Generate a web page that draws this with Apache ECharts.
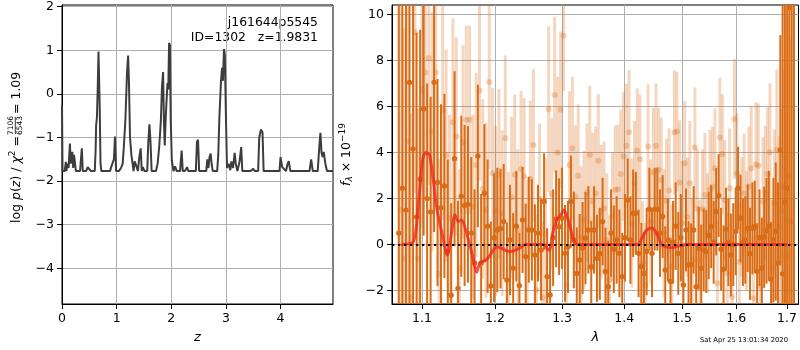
<!DOCTYPE html>
<html>
<head>
<meta charset="utf-8">
<script src="https://cdn.jsdelivr.net/npm/echarts@6.0.0/dist/echarts.min.js"></script>
<style>
  html, body { margin: 0; padding: 0; background: #fff; }
  #chart { width: 800px; height: 350px; }
</style>
</head>
<body>
<div id="chart"></div>
<script>
// ---------- redshift probability curve (left panel) ----------
const PZ_Z = [0, 0.01, 0.05, 0.07, 0.08, 0.1, 0.12, 0.145, 0.16, 0.175, 0.19, 0.205, 0.22, 0.24, 0.255, 0.33, 0.363, 0.38, 0.44, 0.47, 0.5, 0.53, 0.6, 0.615, 0.625, 0.64, 0.655, 0.668, 0.68, 0.69, 0.705, 0.72, 0.88, 0.9, 0.95, 0.97, 0.99, 1.04, 1.08, 1.11, 1.13, 1.16, 1.19, 1.21, 1.225, 1.245, 1.27, 1.29, 1.31, 1.33, 1.36, 1.39, 1.41, 1.44, 1.46, 1.48, 1.51, 1.56, 1.58, 1.6, 1.62, 1.64, 1.72, 1.75, 1.78, 1.81, 1.83, 1.85, 1.865, 1.88, 1.9, 1.93, 1.945, 1.96, 1.975, 1.99, 2.01, 2.04, 2.07, 2.1, 2.16, 2.19, 2.21, 2.25, 2.29, 2.31, 2.34, 2.45, 2.47, 2.49, 2.51, 2.64, 2.66, 2.68, 2.7, 2.72, 2.74, 2.76, 2.84, 2.86, 2.88, 2.91, 2.93, 2.945, 2.965, 2.98, 3.0, 3.02, 3.05, 3.08, 3.1, 3.13, 3.16, 3.18, 3.21, 3.25, 3.28, 3.3, 3.45, 3.5, 3.53, 3.59, 3.61, 3.64, 3.67, 3.69, 3.98, 4.0, 4.03, 4.1, 4.13, 4.15, 4.18, 4.53, 4.56, 4.59, 4.68, 4.71, 4.73, 4.75, 4.77, 4.79, 4.82, 4.85, 4.96];
const PZ_LOGP = [-0.25, -1.77, -1.77, -1.56, -1.77, -1.6, -1.7, -1.14, -1.6, -1.45, -1.33, -1.7, -1.4, -1.37, -1.77, -1.77, -1.25, -1.77, -1.77, -1.68, -1.64, -1.77, -1.77, -1.3, -0.72, -0.52, 0.2, 0.97, 0.95, -0.3, -1.6, -1.77, -1.77, -1.68, -1.5, -0.98, -1.77, -1.77, -1.7, -1.6, -1.25, -0.6, 0.48, 0.88, 0.3, -1.0, -1.4, -1.42, -1.77, -1.55, -1.65, -1.77, -1.5, -1.25, -1.77, -1.68, -1.77, -1.77, -1.1, -0.7, -1.1, -1.77, -1.77, -1.6, -1.2, -0.6, 0.17, 0.5, -0.6, -1.18, -0.5, 0.25, 0.1, 1.17, 1.12, -0.6, -1.52, -1.77, -1.66, -1.77, -1.77, -1.3, -1.77, -1.77, -1.68, -1.77, -1.77, -1.77, -1.1, -1.05, -1.77, -1.77, -1.5, -1.7, -1.45, -1.37, -1.62, -1.77, -1.77, -1.4, -0.56, 0.3, 0.6, 0.3, 1.03, 0.9, -0.5, -1.7, -1.6, -1.75, -1.55, -1.7, -1.35, -1.6, -1.77, -1.55, -1.22, -1.77, -1.77, -1.72, -1.77, -1.77, -1.0, -0.82, -0.88, -1.77, -1.77, -1.45, -1.68, -1.77, -1.6, -1.54, -1.77, -1.77, -1.5, -1.77, -1.77, -1.2, -0.89, -1.35, -1.45, -1.33, -1.6, -1.77, -1.77];
const Z_TICKS = [0, 1, 2, 3, 4];
const LOGP_TICKS = [-4, -3, -2, -1, 0, 1, 2];

// ---------- spectrum (right panel) ----------
// first beam (drawn solid)
const SPEC_A_LAM = [1.0700, 1.0746, 1.0792, 1.0838, 1.0884, 1.0930, 1.0976, 1.1022, 1.1068, 1.1114,
  1.1160, 1.1206, 1.1252, 1.1298, 1.1344, 1.1390, 1.1436, 1.1482, 1.1528, 1.1574,
  1.1620, 1.1666, 1.1712, 1.1758, 1.1804, 1.1850, 1.1896, 1.1942, 1.1988, 1.2034,
  1.2080, 1.2126, 1.2172, 1.2218, 1.2264, 1.2310, 1.2356, 1.2402, 1.2448, 1.2494,
  1.2540, 1.2586, 1.2632, 1.2678, 1.2724, 1.2770, 1.2816, 1.2862, 1.2908, 1.2954,
  1.3000, 1.3046, 1.3092, 1.3138, 1.3184, 1.3230, 1.3276, 1.3322, 1.3368, 1.3414,
  1.3460, 1.3506, 1.3552, 1.3598, 1.3644, 1.3690, 1.3736, 1.3782, 1.3828, 1.3874,
  1.3920, 1.3966, 1.4012, 1.4058, 1.4104, 1.4150, 1.4196, 1.4242, 1.4288, 1.4334,
  1.4380, 1.4426, 1.4472, 1.4518, 1.4564, 1.4610, 1.4656, 1.4702, 1.4748, 1.4794,
  1.4840, 1.4886, 1.4932, 1.4978, 1.5024, 1.5070, 1.5116, 1.5162, 1.5208, 1.5254,
  1.5300, 1.5346, 1.5392, 1.5438, 1.5484, 1.5530, 1.5576, 1.5622, 1.5668, 1.5714,
  1.5760, 1.5806, 1.5852, 1.5898, 1.5944, 1.5990, 1.6036, 1.6082, 1.6128, 1.6174,
  1.6220, 1.6266, 1.6312, 1.6358, 1.6404, 1.6450, 1.6496, 1.6542, 1.6588, 1.6634,
  1.6680, 1.6726, 1.6772, 1.6818, 1.6864, 1.6910, 1.6956, 1.7002, 1.7048, 1.7094, 1.7140];
const SPEC_A_FLUX = [0.5, 2.45, 1.5, 7.04, 4.16, 1.2, 2.84, 5.89, 2.0, 1.42,
  7.05, 2.7, 1.6, 2.55, -0.3, -2.2, 3.73, -1.9, 2.1, 1.7,
  1.75, 0.5, -0.8, 3.85, -0.8, 2.23, 0.8, -1.8, 0.3, 0.64,
  0.7, 1.0, -1.54, 0.2, -1.03, 0.8, -1.78, 1.07, -0.52, 0.64,
  0.64, -0.45, 0.5, -0.23, 1.87, -1.39, -2.19, 0.3, 1.12, 0.78,
  1.14, -0.38, -0.1, 1.87, 0.2, -1.25, -0.67, -0.15, 0.28, 0.64,
  -0.96, 0.64, -0.6, -0.4, 1.0, -1.17, -1.83, 0.5, -0.2, 0.2,
  -0.38, -1.39, 0.3, 1.94, 0.2, 1.36, 1.36, -0.38, -0.96, -1.25,
  -0.3, 1.54, -0.38, 1.54, 1.54, 0.5, 1.22, -1.1, 0.2, -1.6,
  0.1, 0.8, -0.38, 0.3, -1.75, 0.64, -0.88, -0.88, 0.64, -1.83,
  -0.16, -1.03, -0.23, -0.3, 0.4, 0.78, 0.1, 1.43, 2.13, -0.2,
  -1.07, 0.67, 0.1, -0.45, 0.0, 0.57, 2.45, 1.14, 0.1, 0.2,
  0.71, -0.4, 0.71, 0.78, -1.17, 0.3, -1.03, 0.32, 0.6, 0.81,
  -1.5, 0.2, 0.57, -0.8, 4.1, -1.27, 1.84, 2.45, 10.3, 11.0, 12.0];
const SPEC_A_ERR = [15, 14, 13, 12, 10, 8, 6.5, 5.5, 5, 5,
  6.5, 4.5, 4.5, 4, 4, 4, 3.8, 3.8, 3.5, 3.5,
  3.4, 3.3, 3.2, 3.1, 3.0, 3.0, 2.9, 2.8, 2.8, 2.7,
  2.6, 2.5, 2.5, 2.4, 2.4, 2.4, 2.3, 2.3, 2.3, 2.3,
  2.2, 2.2, 2.1, 2.2, 2.1, 2.1, 2.2, 2.1, 2.1, 2.1,
  2.2, 2.1, 2.0, 2.0, 2.1, 2.0, 2.0, 2.0, 2.0, 1.9,
  2.0, 1.9, 1.9, 2.0, 1.9, 1.9, 2.0, 1.9, 1.9, 1.9,
  1.9, 1.9, 1.9, 1.8, 1.9, 1.9, 1.8, 1.9, 1.9, 1.8,
  1.9, 1.8, 1.9, 1.8, 1.8, 1.9, 1.8, 1.9, 1.8, 1.9,
  1.8, 1.9, 1.8, 1.9, 1.8, 1.8, 1.9, 1.8, 1.9, 1.8,
  1.8, 1.9, 1.8, 1.8, 1.9, 1.8, 1.8, 1.9, 1.8, 1.8,
  1.9, 1.8, 1.9, 1.8, 1.8, 1.9, 1.8, 1.9, 1.9, 1.9,
  1.9, 2.0, 2.0, 2.0, 2.1, 2.1, 2.2, 2.2, 2.3, 2.4,
  2.5, 2.7, 3.0, 3.5, 5, 12, 14, 14, 15, 15, 15];

// second beam (drawn faint)
const SPEC_B_LAM = [1.0723, 1.0769, 1.0815, 1.0861, 1.0907, 1.0953, 1.0999, 1.1045, 1.1091, 1.1137,
  1.1183, 1.1229, 1.1275, 1.1321, 1.1367, 1.1413, 1.1459, 1.1505, 1.1551, 1.1597,
  1.1643, 1.1689, 1.1735, 1.1781, 1.1827, 1.1873, 1.1919, 1.1965, 1.2011, 1.2057,
  1.2103, 1.2149, 1.2195, 1.2241, 1.2287, 1.2333, 1.2379, 1.2425, 1.2471, 1.2517,
  1.2563, 1.2609, 1.2655, 1.2701, 1.2747, 1.2793, 1.2839, 1.2885, 1.2931, 1.2977,
  1.3023, 1.3069, 1.3115, 1.3161, 1.3207, 1.3253, 1.3299, 1.3345, 1.3391, 1.3437,
  1.3483, 1.3529, 1.3575, 1.3621, 1.3667, 1.3713, 1.3759, 1.3805, 1.3851, 1.3897,
  1.3943, 1.3989, 1.4035, 1.4081, 1.4127, 1.4173, 1.4219, 1.4265, 1.4311, 1.4357,
  1.4403, 1.4449, 1.4495, 1.4541, 1.4587, 1.4633, 1.4679, 1.4725, 1.4771, 1.4817,
  1.4863, 1.4909, 1.4955, 1.5001, 1.5047, 1.5093, 1.5139, 1.5185, 1.5231, 1.5277,
  1.5323, 1.5369, 1.5415, 1.5461, 1.5507, 1.5553, 1.5599, 1.5645, 1.5691, 1.5737,
  1.5783, 1.5829, 1.5875, 1.5921, 1.5967, 1.6013, 1.6059, 1.6105, 1.6151, 1.6197,
  1.6243, 1.6289, 1.6335, 1.6381, 1.6427, 1.6473, 1.6519, 1.6565, 1.6611, 1.6657,
  1.6703, 1.6749, 1.6795, 1.6841, 1.6887, 1.6933, 1.6979, 1.7025, 1.7071];
const SPEC_B_FLUX = [1.5, -0.6, 4.48, -2.3, 9.23, -0.6, 6.72, 7.48, 8.1, 4.91,
  7.48, -1.28, 5.86, 3.87, 1.14, 5.32, 4.7, -1.03, 4.46, 5.42,
  5.42, 1.65, 3.46, 6.68, 2.42, 1.5, 7.07, 3.1, 1.46, 3.07,
  1.36, 4.62, -0.35, 2.06, 3.03, 0.64, 3.28, 2.96, -0.6, 2.86,
  4.33, -1.97, 1.97, -2.3, 0.46, 5.88, 2.2, 6.5, 4.0, 5.86,
  9.07, -1.75, 3.46, 4.19, 2.09, 2.99, 0.3, 1.07, 2.26, 3.9,
  1.87, 2.23, 3.64, 1.43, 1.58, 0.2, -1.54, 1.22, 2.38, 2.41,
  3.07, 3.83, 4.29, 4.88, 0.93, 2.67, 4.09, 3.71, -0.81, -1.75,
  4.26, 1.0, 3.14, 4.3, 3.25, 2.81, 0.5, 1.9, 2.35, -0.96,
  4.88, 4.91, 2.7, 0.93, 3.54, 1.2, 2.67, -0.67, 4.22, 1.55,
  -0.67, 1.54, 2.16, 0.5, 2.38, 2.52, 3.32, -1.68, 4.65, 3.94,
  1.94, -1.25, 2.45, -2.26, 5.46, 3.1, -0.74, 1.2, 2.23, 0.6,
  2.52, 3.32, -2.33, 3.49, 3.43, -1.83, 1.87, 2.26, 3.07, 4.01,
  -1.03, 1.8, 4.12, 0.8, 1.48, 2.5, -0.5, 3.0, 1.0];
const SPEC_B_ERR = [11, 10, 9, 8, 7, 6.5, 6, 5.5, 5.5, 5.2,
  5, 5, 4.8, 4.6, 4.5, 4.5, 4.3, 4.3, 4.2, 4.1,
  4.1, 4.0, 4.0, 3.9, 3.9, 3.8, 3.8, 3.7, 3.7, 3.7,
  3.6, 3.6, 3.5, 3.5, 3.5, 3.5, 3.4, 3.4, 3.4, 3.4,
  3.3, 3.3, 3.3, 3.3, 3.3, 3.6, 3.3, 3.4, 3.3, 3.4,
  2.4, 3.2, 3.2, 3.1, 3.1, 3.1, 3.1, 3.0, 3.0, 3.0,
  3.0, 2.9, 2.9, 2.9, 2.9, 2.9, 2.8, 2.8, 2.8, 2.8,
  2.8, 2.8, 2.7, 2.7, 2.8, 2.7, 2.7, 2.8, 2.7, 2.7,
  2.7, 2.7, 2.8, 2.7, 2.7, 2.7, 2.8, 2.7, 2.7, 2.7,
  2.7, 2.6, 2.7, 2.7, 2.7, 2.6, 2.7, 2.7, 2.6, 2.6,
  2.6, 2.6, 2.7, 2.6, 2.6, 2.6, 2.6, 2.7, 2.6, 2.6,
  2.6, 2.6, 2.6, 2.7, 2.6, 2.6, 2.6, 2.6, 2.6, 2.6,
  2.6, 2.7, 2.7, 2.7, 2.7, 2.8, 2.8, 2.9, 2.9, 3.0,
  3.0, 3.2, 3.5, 3.9, 4.4, 5.1, 6, 7, 8];

// best-fit template
const MODEL_LAM = [1.073, 1.088, 1.092, 1.0965, 1.101, 1.105, 1.110, 1.115, 1.120, 1.126, 1.1337, 1.139, 1.1441, 1.1486, 1.1533, 1.1602, 1.1685, 1.1741, 1.1787, 1.1882, 1.2000, 1.2047, 1.2119, 1.2216, 1.2289, 1.2388, 1.2436, 1.2737, 1.2763, 1.2802, 1.2864, 1.2916, 1.2993, 1.3029, 1.3095, 1.3174, 1.3237, 1.4234, 1.4292, 1.4378, 1.4464, 1.4550, 1.4637, 1.4725, 1.4841, 1.4960, 1.5080, 1.7000];
const MODEL_FLUX = [0, 0.1, 0.6, 2.2, 3.7, 4.0, 3.9, 2.8, 1.5, 0.6, -0.45, 0.4, 1.3, 1.0, 1.07, 0.5, -0.5, -1.2, -0.8, -0.65, -0.15, -0.1, -0.2, -0.3, -0.25, -0.1, 0, 0, -0.15, -0.25, 0.6, 1.07, 1.35, 1.5, 1.07, 0.27, 0, 0, 0.25, 0.63, 0.72, 0.5, 0, -0.1, -0.12, -0.05, 0, 0];

const LAM_TICKS = [1.1, 1.2, 1.3, 1.4, 1.5, 1.6, 1.7];
const FLUX_TICKS = [-2, 0, 2, 4, 6, 8, 10];

// ---------- drawing ----------
const FONT = 'DejaVu Sans';
const TICK_FS = 12.5;
const ORANGE = '#d96c16';
const minusFmt = v => (v < 0 ? '\u2212' : '') + Math.abs(v);

// wavelength axis is logarithmic: plot ln(lambda) on a linear scale
const lnLam = l => Math.log(l);

const pzData = PZ_Z.map((z, i) => [z, PZ_LOGP[i]]);
const specA = SPEC_A_LAM.map((l, i) => [lnLam(l), SPEC_A_FLUX[i], SPEC_A_ERR[i]]);
const specB = SPEC_B_LAM.map((l, i) => [lnLam(l), SPEC_B_FLUX[i], SPEC_B_ERR[i]]);
const modelData = MODEL_LAM.map((l, i) => [lnLam(l), MODEL_FLUX[i]]);

function errorBarRenderer(color, barWidth, barOpacity, radius, dotOpacity) {
  return function (params, api) {
    const x = api.value(0), y = api.value(1), e = api.value(2);
    const hi = api.coord([x, y + e]);
    const lo = api.coord([x, y - e]);
    const c = api.coord([x, y]);
    return {
      type: 'group',
      children: [
        { type: 'line', shape: { x1: hi[0], y1: hi[1], x2: lo[0], y2: lo[1] },
          style: { stroke: color, lineWidth: barWidth, opacity: barOpacity } },
        { type: 'circle', shape: { cx: c[0], cy: c[1], r: radius },
          style: { fill: color, opacity: dotOpacity } }
      ]
    };
  };
}

function axisCommon(ticks, fmt) {
  return {
    axisLine: { show: true, onZero: false, lineStyle: { color: '#000', width: 1 } },
    axisTick: { show: true, inside: false, length: 5, lineStyle: { color: '#000', width: 1 }, customValues: ticks },
    axisLabel: { customValues: ticks, formatter: fmt, color: '#000', fontSize: TICK_FS, fontFamily: FONT, margin: 8 },
    splitLine: { show: true, lineStyle: { color: '#b0b0b0', width: 1 } }
  };
}

const chart = echarts.init(document.getElementById('chart'), null, { renderer: 'canvas' });

const option = {
  animation: false,
  backgroundColor: '#fff',
  grid: [
    { left: 62, top: 5, width: 271, height: 299, show: true, borderColor: '#000', borderWidth: 1 },
    { left: 392, top: 5, width: 407, height: 299, show: true, borderColor: '#000', borderWidth: 1 }
  ],
  xAxis: [
    Object.assign({ gridIndex: 0, type: 'value', min: 0, max: 4.96,
      name: 'z', nameLocation: 'middle', nameGap: 27,
      nameTextStyle: { fontStyle: 'italic', fontSize: 13, fontFamily: FONT, color: '#000' } },
      axisCommon(Z_TICKS, minusFmt)),
    Object.assign({ gridIndex: 1, type: 'value', min: lnLam(1.0614), max: lnLam(1.7233),
      name: 'λ', nameLocation: 'middle', nameGap: 27,
      nameTextStyle: { fontStyle: 'italic', fontSize: 13, fontFamily: FONT, color: '#000' } },
      axisCommon(LAM_TICKS.map(lnLam), v => Math.exp(v).toFixed(1)))
  ],
  yAxis: [
    Object.assign({ gridIndex: 0, type: 'value', min: -4.82, max: 2.04 },
      axisCommon(LOGP_TICKS, minusFmt)),
    Object.assign({ gridIndex: 1, type: 'value', min: -2.58, max: 10.41,
      name: '{i|f}{sub|λ}{n| × 10}{sup|\u221219}', nameLocation: 'middle', nameRotate: 90, nameGap: 36,
      nameTextStyle: {
        fontFamily: FONT, fontSize: 12.5, color: '#000',
        rich: {
          i: { fontStyle: 'italic', fontSize: 12.5, fontFamily: FONT, color: '#000' },
          sub: { fontStyle: 'italic', fontSize: 9, fontFamily: FONT, color: '#000', padding: [6, 0, 0, 0] },
          n: { fontSize: 12.5, fontFamily: FONT, color: '#000' },
          sup: { fontSize: 9, fontFamily: FONT, color: '#000', padding: [0, 0, 9, 0] }
        }
      } },
      axisCommon(FLUX_TICKS, minusFmt))
  ],
  series: [
    {
      name: 'log p(z)', type: 'line', xAxisIndex: 0, yAxisIndex: 0,
      data: pzData, showSymbol: false, clip: true,
      lineStyle: { color: '#3d3d3d', width: 2 }, z: 3
    },
    {
      name: 'beam B', type: 'custom', xAxisIndex: 1, yAxisIndex: 1, clip: true,
      data: specB, encode: { x: 0, y: 1 }, z: 2,
      renderItem: errorBarRenderer(ORANGE, 3, 0.27, 3, 0.3)
    },
    {
      name: 'beam A', type: 'custom', xAxisIndex: 1, yAxisIndex: 1, clip: true,
      data: specA, encode: { x: 0, y: 1 }, z: 3,
      renderItem: errorBarRenderer(ORANGE, 2.0, 1, 2.7, 1)
    },
    {
      name: 'model', type: 'line', xAxisIndex: 1, yAxisIndex: 1,
      data: modelData, showSymbol: false, smooth: 0.25, clip: true,
      lineStyle: { color: '#f0281e', width: 3, opacity: 0.8 }, z: 4
    },
    {
      name: 'zero', type: 'line', xAxisIndex: 1, yAxisIndex: 1, data: [], z: 5,
      markLine: {
        silent: true, symbol: 'none', label: { show: false }, animation: false,
        lineStyle: { color: '#000', width: 2, type: [2.3, 3.7] },
        data: [{ yAxis: 0 }]
      }
    }
  ],
  graphic: [
    {
      type: 'group', x: 16.5, y: 150, rotation: Math.PI / 2, silent: true,
      children: [
        { type: 'text', x: 14, y: 0,
          style: { text: '{n|log }{i|p}{n|(}{i|z}{n|) / }{i|χ}{s|2}{n| =}',
            textAlign: 'right', textVerticalAlign: 'middle',
            rich: {
              n: { fontSize: 12.5, fontFamily: FONT, fill: '#000' },
              i: { fontSize: 12.5, fontFamily: FONT, fontStyle: 'italic', fill: '#000' },
              s: { fontSize: 9, fontFamily: FONT, fill: '#000', padding: [0, 0, 8, 0] }
            } } },
        { type: 'text', x: 24.5, y: -5,
          style: { text: '7106', fontSize: 7.5, fontFamily: FONT, fill: '#000', textAlign: 'center', textVerticalAlign: 'middle' } },
        { type: 'line', shape: { x1: 16, y1: -1.2, x2: 33, y2: -1.2 }, style: { stroke: '#000', lineWidth: 0.8 } },
        { type: 'text', x: 24.5, y: 3.2,
          style: { text: '6543', fontSize: 7.5, fontFamily: FONT, fill: '#000', textAlign: 'center', textVerticalAlign: 'middle' } },
        { type: 'text', x: 36, y: 0,
          style: { text: '= 1.09', fontSize: 12.5, fontFamily: FONT, fill: '#000', textAlign: 'left', textVerticalAlign: 'middle' } }
      ]
    },
    { type: 'text', x: 318, y: 23, silent: true,
      style: { text: 'j161644p5545', fontSize: 12.4, fontFamily: FONT, fill: '#000', textAlign: 'right', textVerticalAlign: 'middle' } },
    { type: 'text', x: 318, y: 37.5, silent: true,
      style: { text: 'ID=1302   z=1.9831', fontSize: 12.4, fontFamily: FONT, fill: '#000', textAlign: 'right', textVerticalAlign: 'middle' } },
    { type: 'text', x: 788, y: 340, silent: true,
      style: { text: 'Sat Apr 25 13:01:34 2020', fontSize: 6.8, fontFamily: FONT, fill: '#000', textAlign: 'right', textVerticalAlign: 'middle' } }
  ]
};

chart.setOption(option);
</script>
</body>
</html>
